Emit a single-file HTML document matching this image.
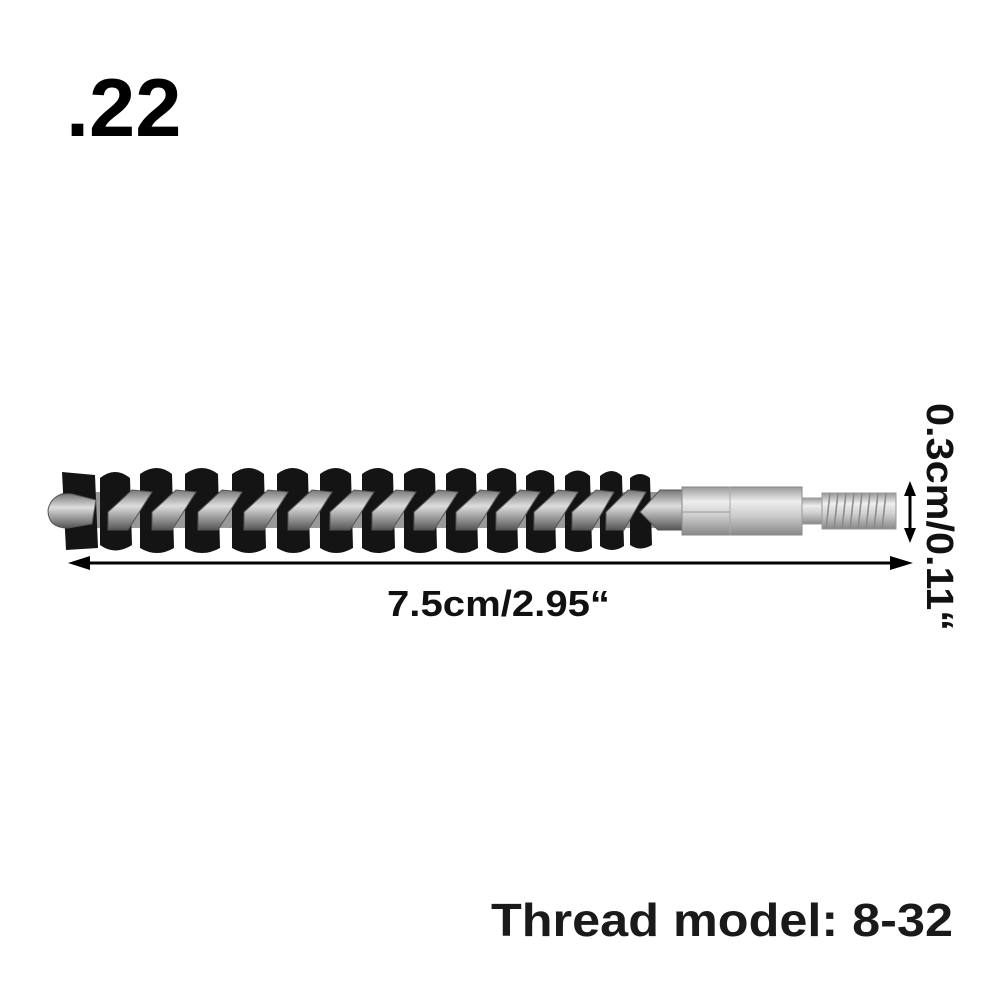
<!DOCTYPE html>
<html><head><style>html,body{margin:0;padding:0;background:#fff}svg{display:block}</style></head>
<body>
<svg width="1000" height="1000" viewBox="0 0 1000 1000" xmlns="http://www.w3.org/2000/svg" font-family="Liberation Sans, Arial, sans-serif" font-weight="bold">
<defs>
<linearGradient id="wire" x1="0" y1="0" x2="0" y2="1">
<stop offset="0" stop-color="#777"/><stop offset="0.4" stop-color="#ddd"/><stop offset="1" stop-color="#555"/>
</linearGradient>
<linearGradient id="metal" x1="0" y1="0" x2="0" y2="1">
<stop offset="0" stop-color="#999"/><stop offset="0.3" stop-color="#eee"/><stop offset="0.6" stop-color="#ccc"/><stop offset="1" stop-color="#888"/>
</linearGradient>
</defs>
<text x="66" y="136" font-size="83" fill="#000">.22</text>
<rect x="50" y="492" width="640" height="36" rx="18" fill="#999"/>
<g fill="#141414">
<path d="M62 472 L95 475 L98 548 L66 550 Z"/>
<path d="M100 478 Q115 466 130 478 L132 545 Q115 556 100 545 Z"/>
<path d="M140 474 Q157 462 172 474 L174 548 Q157 558 140 548 Z"/>
<path d="M185 474 Q202 462 218 474 L220 548 Q202 558 185 548 Z"/>
<path d="M232 474 Q249 462 264 474 L266 548 Q249 558 232 548 Z"/>
<path d="M277 474 Q293 462 308 474 L310 548 Q293 558 277 548 Z"/>
<path d="M320 474 Q336 462 351 474 L353 548 Q336 558 320 548 Z"/>
<path d="M362 474 Q378 462 393 474 L395 548 Q378 558 362 548 Z"/>
<path d="M404 474 Q420 462 435 474 L437 548 Q420 558 404 548 Z"/>
<path d="M446 474 Q462 462 476 474 L478 548 Q462 558 446 548 Z"/>
<path d="M487 474 Q502 462 516 474 L518 548 Q502 558 487 548 Z"/>
<path d="M526 476 Q541 464 554 476 L556 548 Q541 558 526 548 Z"/>
<path d="M565 476 Q578 465 590 476 L592 548 Q578 556 565 548 Z"/>
<path d="M600 476 Q612 466 622 476 L624 546 Q612 554 600 546 Z"/>
<path d="M630 478 Q640 470 650 478 L652 545 Q640 552 630 545 Z"/>
</g>
<g fill="url(#wire)" stroke="#555" stroke-width="1">
<path d="M48 510 Q52 492 72 494 L96 500 L92 524 L68 528 Q48 528 48 510 Z"/>
<path d="M108 512 L132 490 L152 492 L128 530 L108 530 Z"/>
<path d="M152 512 L176 490 L196 492 L172 530 L152 530 Z"/>
<path d="M198 512 L222 490 L242 492 L218 530 L198 530 Z"/>
<path d="M244 512 L268 490 L288 492 L264 530 L244 530 Z"/>
<path d="M288 512 L312 490 L332 492 L308 530 L288 530 Z"/>
<path d="M330 512 L354 490 L374 492 L350 530 L330 530 Z"/>
<path d="M372 512 L396 490 L416 492 L392 530 L372 530 Z"/>
<path d="M414 512 L438 490 L458 492 L434 530 L414 530 Z"/>
<path d="M456 512 L480 490 L500 492 L476 530 L456 530 Z"/>
<path d="M496 512 L520 490 L540 492 L516 530 L496 530 Z"/>
<path d="M534 512 L558 490 L578 492 L554 530 L534 530 Z"/>
<path d="M572 512 L596 490 L614 492 L592 530 L572 530 Z"/>
<path d="M606 512 L628 490 L646 492 L624 530 L606 530 Z"/>
<path d="M640 512 L660 490 L682 490 L682 530 L658 530 Z"/>
</g>
<rect x="682" y="487" width="120" height="48" fill="url(#metal)" stroke="#888"/>
<line x1="682" y1="512" x2="730" y2="512" stroke="#999"/>
<line x1="730" y1="487" x2="730" y2="535" stroke="#aaa"/>
<rect x="802" y="498" width="22" height="26" fill="url(#metal)" stroke="#999"/>
<rect x="822" y="493" width="74" height="36" fill="url(#metal)" stroke="#999"/>
<g stroke="#888" stroke-width="1.5">
<line x1="830" y1="493" x2="826" y2="529"/><line x1="838" y1="493" x2="834" y2="529"/>
<line x1="846" y1="493" x2="842" y2="529"/><line x1="854" y1="493" x2="850" y2="529"/>
<line x1="862" y1="493" x2="858" y2="529"/><line x1="870" y1="493" x2="866" y2="529"/>
<line x1="878" y1="493" x2="874" y2="529"/><line x1="886" y1="493" x2="882" y2="529"/>
</g>
<line x1="80" y1="563" x2="900" y2="563" stroke="#000" stroke-width="3"/>
<polygon points="68,563 90,556 90,570" fill="#000"/>
<polygon points="913,563 890,556 890,570" fill="#000"/>
<line x1="910" y1="490" x2="910" y2="534" stroke="#000" stroke-width="3"/>
<polygon points="910,481 904,496 916,496" fill="#000"/>
<polygon points="910,543 904,528 916,528" fill="#000"/>
<text x="387" y="616" font-size="36" fill="#111" textLength="223" lengthAdjust="spacingAndGlyphs">7.5cm/2.95“</text>
<text transform="translate(927,403) rotate(90)" font-size="38" fill="#111" textLength="228" lengthAdjust="spacingAndGlyphs">0.3cm/0.11“</text>
<text x="491" y="936" font-size="46" fill="#1a1a1a" textLength="462" lengthAdjust="spacingAndGlyphs">Thread model: 8-32</text>
</svg>
</body></html>
